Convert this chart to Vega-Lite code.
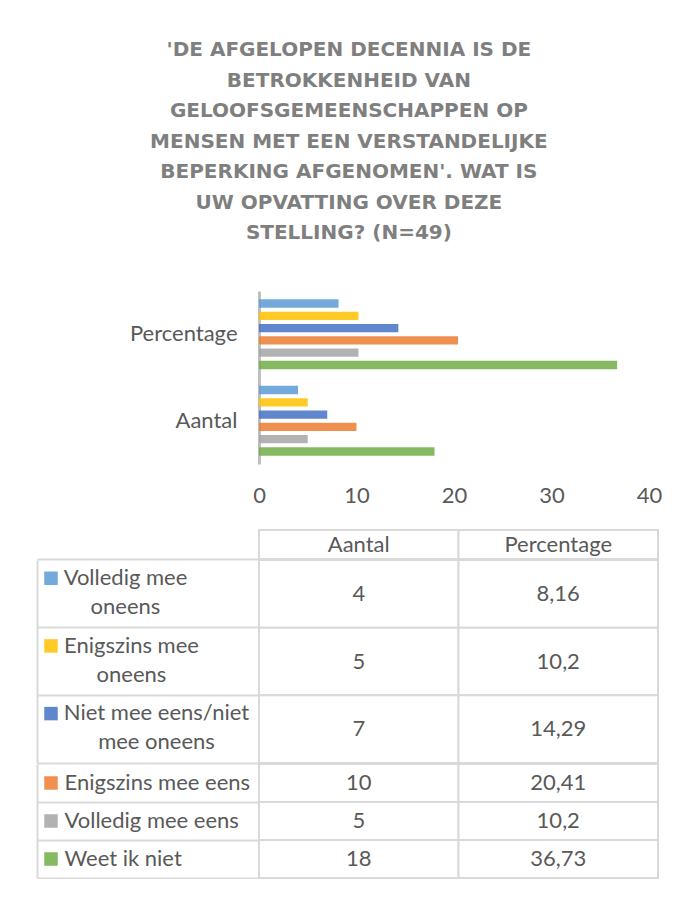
{
  "$schema": "https://vega.github.io/schema/vega-lite/v6.json",
  "datasets": {
    "antwoorden": [
      {"antwoord": "Volledig mee oneens", "Aantal": 4, "Percentage": 8.16},
      {"antwoord": "Enigszins mee oneens", "Aantal": 5, "Percentage": 10.2},
      {"antwoord": "Niet mee eens/niet mee oneens", "Aantal": 7, "Percentage": 14.29},
      {"antwoord": "Enigszins mee eens", "Aantal": 10, "Percentage": 20.41},
      {"antwoord": "Volledig mee eens", "Aantal": 5, "Percentage": 10.2},
      {"antwoord": "Weet ik niet", "Aantal": 18, "Percentage": 36.73}
    ]
  },
  "padding": {"left": 36, "top": 40, "right": 0, "bottom": 0},
  "title": {
    "text": ["'DE AFGELOPEN DECENNIA IS DE", "BETROKKENHEID VAN", "GELOOFSGEMEENSCHAPPEN OP", "MENSEN MET EEN VERSTANDELIJKE", "BEPERKING AFGENOMEN'. WAT IS", "UW OPVATTING OVER DEZE", "STELLING? (N=49)"],
    "font": "DejaVu Sans", "fontSize": 20, "fontWeight": "bold", "color": "#7F7F7F",
    "lineHeight": 30.5, "anchor": "middle", "offset": 48
  },
  "spacing": -2,
  "vconcat": [
    {
      "width": 390, "height": 173,
      "data": {"name": "antwoorden"},
      "transform": [{"fold": ["Aantal", "Percentage"], "as": ["reeks", "waarde"]}],
      "mark": {"type": "bar", "opacity": 0.85},
      "encoding": {
        "y": {"field": "reeks", "type": "nominal", "sort": ["Percentage", "Aantal"],
          "scale": {"paddingInner": 0, "paddingOuter": 0},
          "axis": {"title": null, "domainColor": "#BFBFBF", "domainWidth": 3, "ticks": false,
            "labelFont": "Lato", "labelFontSize": 22, "labelColor": "#595959", "labelPadding": 22,
            "minExtent": 223, "maxExtent": 223}},
        "yOffset": {"field": "antwoord", "type": "nominal",
          "sort": ["Volledig mee oneens", "Enigszins mee oneens", "Niet mee eens/niet mee oneens", "Enigszins mee eens", "Volledig mee eens", "Weet ik niet"],
          "scale": {"paddingInner": 0.325, "paddingOuter": 0.68}},
        "x": {"field": "waarde", "type": "quantitative", "scale": {"domain": [0, 40]},
          "axis": {"title": null, "grid": false, "domain": false, "ticks": false, "values": [0, 10, 20, 30, 40],
            "labelFlush": false, "labelFont": "Lato", "labelFontSize": 22, "labelColor": "#595959", "labelPadding": 21,
            "minExtent": 66, "maxExtent": 66}},
        "color": {"field": "antwoord", "type": "nominal",
          "scale": {"domain": ["Volledig mee oneens", "Enigszins mee oneens", "Niet mee eens/niet mee oneens", "Enigszins mee eens", "Volledig mee eens", "Weet ik niet"],
            "range": ["#5B9BD5", "#FFC000", "#4472C4", "#ED7D31", "#A5A5A5", "#70AD47"]},
          "legend": null}
      }
    },
    {
      "width": 399, "height": 29,
      "data": {"name": "antwoorden"},
      "transform": [
        {"fold": ["Aantal", "Percentage"], "as": ["kolom", "waarde"]},
        {"aggregate": [{"op": "count", "as": "n"}], "groupby": ["kolom"]}
      ],
      "encoding": {
        "x": {"field": "kolom", "type": "nominal", "sort": ["Aantal", "Percentage"],
          "scale": {"paddingInner": 0, "paddingOuter": 0}, "axis": null},
        "y": {"datum": "kop", "type": "nominal", "scale": {"paddingInner": 0, "paddingOuter": 0},
          "axis": {"title": null, "labels": false, "domain": false, "ticks": true, "tickSize": -222, "offset": 222,
            "bandPosition": 1, "tickColor": "#D9D9D9", "tickWidth": 2, "minExtent": 0, "maxExtent": 0}}
      },
      "layer": [
        {"mark": {"type": "rect", "fill": "white", "stroke": "#D9D9D9", "strokeWidth": 2}},
        {"mark": {"type": "text", "font": "Lato", "fontSize": 22, "color": "#595959"},
          "encoding": {"text": {"field": "kolom", "type": "nominal"}}}
      ]
    },
    {
      "width": 399, "height": 203,
      "data": {"name": "antwoorden"},
      "transform": [
        {"filter": {"field": "antwoord", "oneOf": ["Volledig mee oneens", "Enigszins mee oneens", "Niet mee eens/niet mee oneens"]}},
        {"fold": ["Aantal", "Percentage"], "as": ["kolom", "waarde"]}
      ],
      "encoding": {
        "x": {"field": "kolom", "type": "nominal", "sort": ["Aantal", "Percentage"],
          "scale": {"paddingInner": 0, "paddingOuter": 0}, "axis": null},
        "y": {"field": "antwoord", "type": "nominal",
          "sort": ["Volledig mee oneens", "Enigszins mee oneens", "Niet mee eens/niet mee oneens"],
          "scale": {"paddingInner": 0, "paddingOuter": 0},
          "axis": {"title": null, "offset": 222, "domain": true, "domainColor": "#D9D9D9", "domainWidth": 2,
            "ticks": true, "tickSize": -222, "tickColor": "#D9D9D9", "tickWidth": 2, "bandPosition": 1,
            "labelAlign": "center", "labelBaseline": "top", "labelOffset": -26,
            "labelPadding": {"condition": [
              {"test": "datum.value == 'Niet mee eens/niet mee oneens'", "value": 103},
              {"test": "datum.value == 'Enigszins mee oneens'", "value": 128}
            ], "value": 134},
            "labelFont": "Lato", "labelFontSize": 22, "labelColor": "#595959", "labelLineHeight": 29, "labelLimit": 400,
            "labelExpr": "datum.value == 'Volledig mee oneens' ? ['Volledig mee', 'oneens'] : datum.value == 'Enigszins mee oneens' ? ['Enigszins mee', 'oneens'] : ['Niet mee eens/niet', 'mee oneens']",
            "minExtent": 0, "maxExtent": 0}}
      },
      "layer": [
        {"mark": {"type": "rect", "fill": "white", "stroke": "#D9D9D9", "strokeWidth": 2}},
        {"mark": {"type": "text", "font": "Lato", "fontSize": 22, "color": "#595959"},
          "encoding": {"text": {"field": "waarde", "type": "quantitative", "format": "~g"}}},
        {"transform": [{"filter": "datum.kolom == 'Aantal'"}],
          "mark": {"type": "square", "size": 182, "xOffset": -208, "opacity": 0.85},
          "encoding": {
            "x": {"field": "kolom", "type": "nominal", "bandPosition": 0},
            "y": {"field": "antwoord", "type": "nominal", "bandPosition": 0.27},
            "color": {"field": "antwoord", "type": "nominal",
              "scale": {"domain": ["Volledig mee oneens", "Enigszins mee oneens", "Niet mee eens/niet mee oneens", "Enigszins mee eens", "Volledig mee eens", "Weet ik niet"],
                "range": ["#5B9BD5", "#FFC000", "#4472C4", "#ED7D31", "#A5A5A5", "#70AD47"]},
              "legend": null}
          }}
      ]
    },
    {
      "width": 399, "height": 114,
      "data": {"name": "antwoorden"},
      "transform": [
        {"filter": {"field": "antwoord", "oneOf": ["Enigszins mee eens", "Volledig mee eens", "Weet ik niet"]}},
        {"fold": ["Aantal", "Percentage"], "as": ["kolom", "waarde"]}
      ],
      "encoding": {
        "x": {"field": "kolom", "type": "nominal", "sort": ["Aantal", "Percentage"],
          "scale": {"paddingInner": 0, "paddingOuter": 0}, "axis": null},
        "y": {"field": "antwoord", "type": "nominal",
          "sort": ["Enigszins mee eens", "Volledig mee eens", "Weet ik niet"],
          "scale": {"paddingInner": 0, "paddingOuter": 0},
          "axis": {"title": null, "offset": 222, "domain": true, "domainColor": "#D9D9D9", "domainWidth": 2,
            "ticks": true, "tickSize": -222, "tickColor": "#D9D9D9", "tickWidth": 2, "bandPosition": 1,
            "labelAlign": "left", "labelBaseline": "middle", "labelOffset": 0, "labelPadding": 195,
            "labelFont": "Lato", "labelFontSize": 22, "labelColor": "#595959", "labelLimit": 400,
            "minExtent": 0, "maxExtent": 0}}
      },
      "layer": [
        {"mark": {"type": "rect", "fill": "white", "stroke": "#D9D9D9", "strokeWidth": 2}},
        {"mark": {"type": "text", "font": "Lato", "fontSize": 22, "color": "#595959"},
          "encoding": {"text": {"field": "waarde", "type": "quantitative", "format": "~g"}}},
        {"transform": [{"filter": "datum.kolom == 'Aantal'"}],
          "mark": {"type": "square", "size": 182, "xOffset": -208, "opacity": 0.85},
          "encoding": {
            "x": {"field": "kolom", "type": "nominal", "bandPosition": 0},
            "color": {"field": "antwoord", "type": "nominal",
              "scale": {"domain": ["Volledig mee oneens", "Enigszins mee oneens", "Niet mee eens/niet mee oneens", "Enigszins mee eens", "Volledig mee eens", "Weet ik niet"],
                "range": ["#5B9BD5", "#FFC000", "#4472C4", "#ED7D31", "#A5A5A5", "#70AD47"]},
              "legend": null}
          }}
      ]
    }
  ],
  "config": {
    "view": {"stroke": null},
    "locale": {"number": {"decimal": ",", "thousands": ".", "grouping": [3], "currency": ["€ ", ""]}}
  }
}
